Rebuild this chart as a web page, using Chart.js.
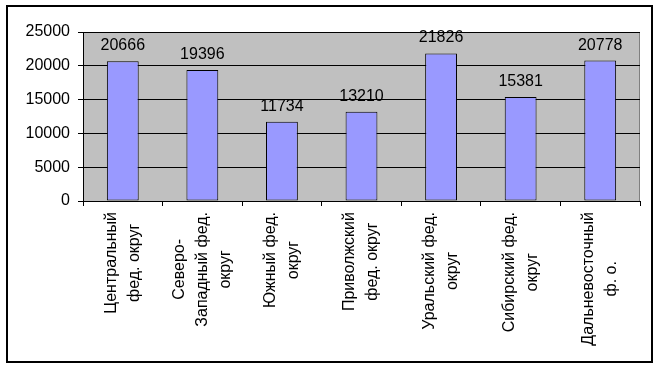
<!DOCTYPE html>
<html>
<head>
<meta charset="utf-8">
<script src="https://cdn.jsdelivr.net/npm/chart.js@4/dist/chart.umd.min.js"></script>
<style>
  html, body { margin: 0; padding: 0; background: #fff; }
  #wrap { width: 661px; height: 369px; }
</style>
</head>
<body>
<div id="wrap"><canvas id="districtChart"></canvas></div>
<script>
// category labels, split in lines like the original
const categoryLines = [
    ['Центральный', 'фед. округ'],
    ['Северо-', 'Западный фед.', 'округ'],
    ['Южный фед.', 'округ'],
    ['Приволжский', 'фед. округ'],
    ['Уральский фед.', 'округ'],
    ['Сибирский фед.', 'округ'],
    ['Дальневосточный', 'ф. о.']
];
const districtValues = [20666, 19396, 11734, 13210, 21826, 15381, 20778];
const yTicks = [0, 5000, 10000, 15000, 20000, 25000];

const FONT = '16px "Liberation Sans", Arial, sans-serif';

// gray plot area + outer frame
const frameBg = {
    id: 'frameBg',
    beforeDraw(chart) {
        const { ctx, chartArea: a } = chart;
        ctx.save();
        ctx.fillStyle = '#C0C0C0';
        ctx.fillRect(a.left, a.top, a.right - a.left, a.bottom - a.top);
        ctx.strokeStyle = '#808080';
        ctx.lineWidth = 1;
        ctx.beginPath();
        ctx.moveTo(a.left, a.top + 0.5);
        ctx.lineTo(a.right - 0.5, a.top + 0.5);
        ctx.lineTo(a.right - 0.5, a.bottom);
        ctx.stroke();
        ctx.restore();
    },
    afterDraw(chart) {
        const ctx = chart.ctx;
        ctx.save();
        ctx.strokeStyle = '#000';
        ctx.lineWidth = 2;
        ctx.strokeRect(7, 6, 645, 356);
        ctx.restore();
    }
};

// value labels above bars
const valueLabels = {
    id: 'valueLabels',
    afterDatasetsDraw(chart) {
        const ctx = chart.ctx;
        const meta = chart.getDatasetMeta(0);
        ctx.save();
        ctx.font = FONT;
        ctx.fillStyle = '#000';
        ctx.textAlign = 'center';
        ctx.textBaseline = 'alphabetic';
        meta.data.forEach((bar, i) => {
            ctx.fillText(String(districtValues[i]), bar.x, bar.y - 11);
        });
        ctx.restore();
    }
};

// rotated multi-line category labels (read bottom to top)
const rotatedLabels = {
    id: 'rotatedLabels',
    afterDraw(chart) {
        const ctx = chart.ctx;
        const xScale = chart.scales.x;
        const lineGap = 23;
        ctx.save();
        ctx.font = FONT;
        ctx.fillStyle = '#000';
        ctx.textAlign = 'center';
        ctx.textBaseline = 'middle';
        categoryLines.forEach((lines, i) => {
            const cx = xScale.getPixelForValue(i);
            const maxW = Math.max(...lines.map(l => ctx.measureText(l).width));
            const cy = xScale.top + 11 + maxW / 2;
            lines.forEach((line, j) => {
                const lx = cx + (j - (lines.length - 1) / 2) * lineGap;
                ctx.save();
                ctx.translate(lx, cy);
                ctx.rotate(-Math.PI / 2);
                ctx.fillText(line, 0, 0);
                ctx.restore();
            });
        });
        ctx.restore();
    }
};

const ctx = document.getElementById('districtChart').getContext('2d');
new Chart(ctx, {
    type: 'bar',
    data: {
        labels: categoryLines.map(l => l.join(' ')),
        datasets: [{
            data: districtValues,
            backgroundColor: '#9999FF',
            borderColor: '#000',
            borderWidth: 1,
            borderSkipped: false,
            categoryPercentage: 1,
            barPercentage: 0.4
        }]
    },
    options: {
        responsive: true,
        maintainAspectRatio: false,
        animation: false,
        layout: { padding: { left: 0, top: 32, right: 21, bottom: 0 } },
        plugins: {
            legend: { display: false },
            tooltip: { enabled: false }
        },
        scales: {
            x: {
                offset: true,
                afterFit: s => { s.height = 168; },
                ticks: { display: false },
                grid: {
                    offset: true,
                    drawOnChartArea: false,
                    drawTicks: true,
                    tickLength: 5,
                    color: '#000'
                },
                border: { display: true, color: '#000', width: 1 }
            },
            y: {
                min: 0,
                max: 25000,
                afterFit: s => { s.width = 83; },
                afterBuildTicks: s => { s.ticks = yTicks.map(v => ({ value: v })); },
                ticks: {
                    color: '#000',
                    font: { family: '"Liberation Sans", Arial, sans-serif', size: 16 },
                    padding: 8,
                    callback: v => String(v)
                },
                grid: {
                    color: '#000',
                    tickLength: 5,
                    drawTicks: true
                },
                border: { display: true, color: '#000', width: 1 }
            }
        }
    },
    plugins: [frameBg, valueLabels, rotatedLabels]
});
</script>
</body>
</html>
